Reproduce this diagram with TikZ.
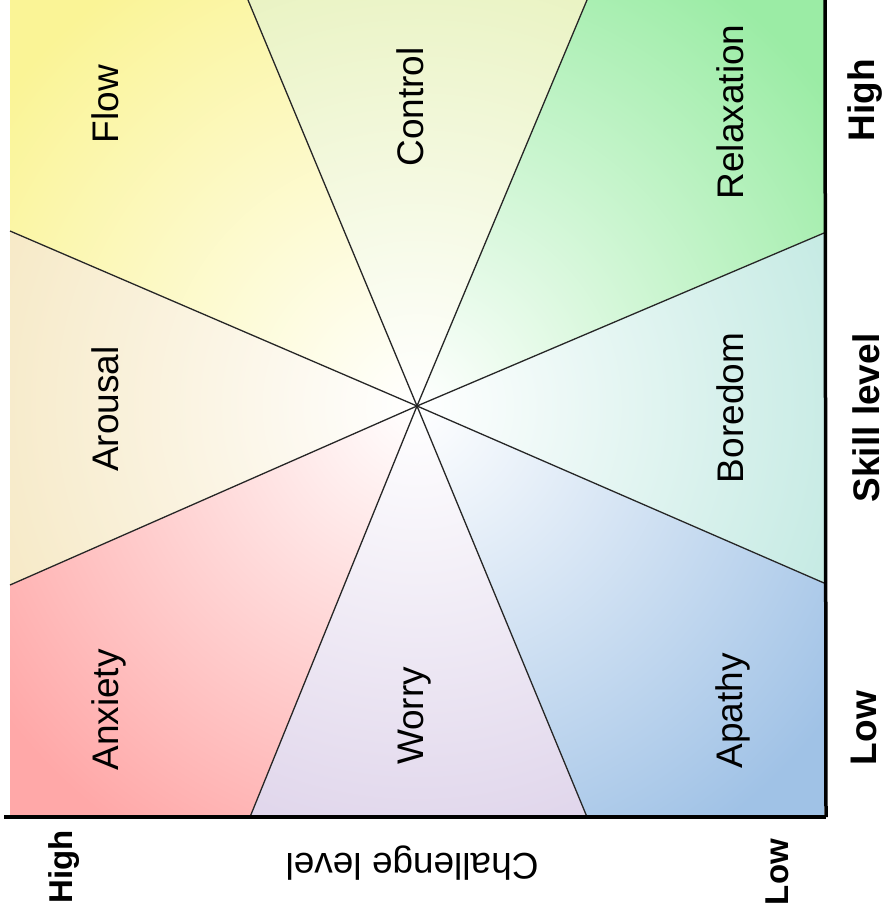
\documentclass[tikz,border=0pt]{standalone}
\usepackage{fontspec}
\setmainfont{Liberation Sans}
\definecolor{anxc}{RGB}{255,168,168}
\definecolor{worc}{RGB}{219,207,232}
\definecolor{apac}{RGB}{160,194,230}
\definecolor{borc}{RGB}{188,231,223}
\definecolor{relc}{RGB}{155,236,165}
\definecolor{conc}{RGB}{230,241,185}
\definecolor{floc}{RGB}{250,244,150}
\definecolor{aroc}{RGB}{245,230,190}
\newcommand\mkregshade[2]{\pgfdeclareradialshading{#1}{\pgfpointorigin}{color(0bp)=(white); color(21.5bp)=(#2); color(50bp)=(#2)}}
\mkregshade{anxsh}{anxc}
\mkregshade{worsh}{worc}
\mkregshade{apash}{apac}
\mkregshade{borsh}{borc}
\mkregshade{relsh}{relc}
\mkregshade{consh}{conc}
\mkregshade{flosh}{floc}
\mkregshade{arosh}{aroc}
\begin{document}
\begin{tikzpicture}[x=1pt,y=-1pt,
  lab/.style={font=\fontsize{37}{40}\selectfont, rotate=90, inner sep=0pt, anchor=base},
  axbold/.style={font=\fontsize{37}{40}\selectfont\bfseries, rotate=90, inner sep=0pt, anchor=base},
  axsmall/.style={font=\fontsize{33}{36}\selectfont\bfseries, rotate=90, inner sep=0pt, anchor=base},
  sep/.style={line width=1.3pt, black!85},
  axis/.style={line width=3.5pt, black}]
\useasboundingbox (0,0) rectangle (886,920);
% key points
\coordinate (C) at (417,406);
\coordinate (TL) at (10,0);
\coordinate (T1) at (248,0);
\coordinate (T2) at (587,0);
\coordinate (TR) at (824,0);
\coordinate (R1) at (824,233);
\coordinate (R2) at (824,583);
\coordinate (BR) at (824,817);
\coordinate (B2) at (587,817);
\coordinate (B1) at (250,817);
\coordinate (BL) at (10,817);
\coordinate (L2) at (10,585);
\coordinate (L1) at (10,231);
% regions
\begin{scope}\clip (C) -- (T1) -- (TL) -- (L1) -- cycle;
  \shade[shading=flosh] (C) circle (600);\end{scope}
\begin{scope}\clip (C) -- (T1) -- (T2) -- cycle;
  \shade[shading=consh] (C) circle (600);\end{scope}
\begin{scope}\clip (C) -- (T2) -- (TR) -- (R1) -- cycle;
  \shade[shading=relsh] (C) circle (600);\end{scope}
\begin{scope}\clip (C) -- (R1) -- (R2) -- cycle;
  \shade[shading=borsh] (C) circle (600);\end{scope}
\begin{scope}\clip (C) -- (R2) -- (BR) -- (B2) -- cycle;
  \shade[shading=apash] (C) circle (600);\end{scope}
\begin{scope}\clip (C) -- (B2) -- (B1) -- cycle;
  \shade[shading=worsh] (C) circle (600);\end{scope}
\begin{scope}\clip (C) -- (B1) -- (BL) -- (L2) -- cycle;
  \shade[shading=anxsh] (C) circle (600);\end{scope}
\begin{scope}\clip (C) -- (L2) -- (L1) -- cycle;
  \shade[shading=arosh] (C) circle (600);\end{scope}
% separators
\foreach \p in {T1,T2,R1,R2,B2,B1,L2,L1} \draw[sep] (C) -- (\p);
% axes
\coordinate (AX0) at (4,817);
\coordinate (AX1) at (826,817);
\coordinate (AY0) at (825,0);
\draw[axis] (AX0) -- (AX1);
\draw[axis] (AY0) -- (AX1);
% region labels
\node[lab] (flow) at (118,104) {Flow};
\node[lab] (control) at (423,107) {Control};
\node[lab] (relax) at (743,112) {Relaxation};
\node[lab] (arousal) at (118,409) {Arousal};
\node[lab] (boredom) at (743,408) {Boredom};
\node[lab] (anxiety) at (118,710) {Anxiety};
\node[lab] (worry) at (423,716) {Worry};
\node[lab] (apathy) at (742,711) {Apathy};
% axis labels
\node[axbold] (shigh) at (874,100) {High};
\node[axbold] (skill) at (879,418) {Skill level};
\node[axbold] (slow) at (876,728) {Low};
\node[axsmall] (chigh) at (72,867) {High};
\node[font=\fontsize{37}{40}\selectfont, rotate=180, inner sep=0pt, anchor=base] (chal) at (412,853) {Challenge level};
\node[axsmall] (clow) at (788,872) {Low};
\end{tikzpicture}
\end{document}
